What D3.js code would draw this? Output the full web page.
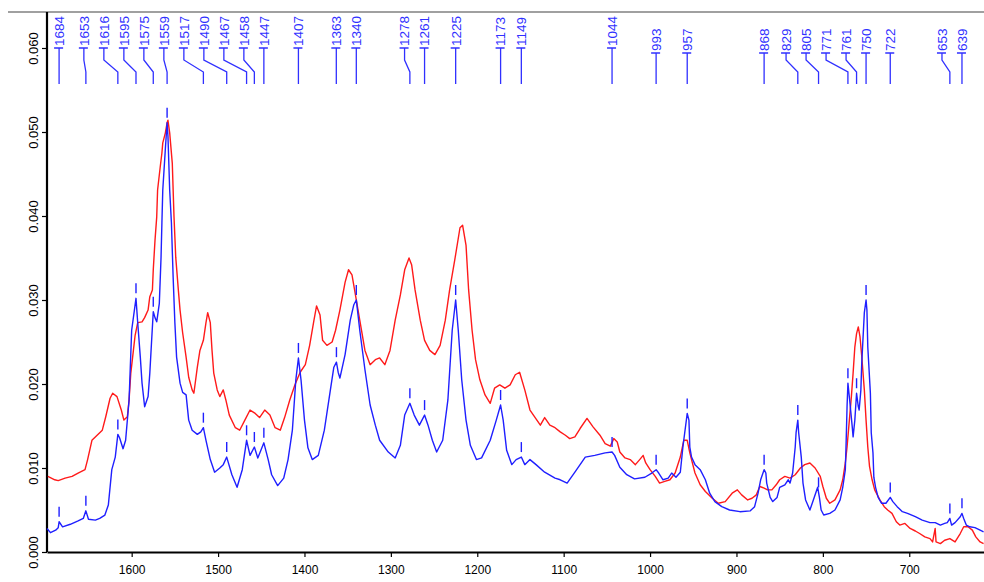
<!DOCTYPE html>
<html>
<head>
<meta charset="utf-8">
<script src="https://cdn.jsdelivr.net/npm/d3@7"></script>
<style>
  html, body { margin: 0; padding: 0; background: #fff; }
  svg { display: block; }
  text { font-family: Arial, "Liberation Sans", sans-serif; }
</style>
</head>
<body>
<svg id="spectrum"></svg>
<script>
/*------------------- data --------------------*/
// [wavenumber cm-1, absorbance]
const blueSpectrum = [
    [1698, 0.0028], [1694, 0.0023], [1688, 0.0026], [1685, 0.0029], [1684, 0.0036], [1680, 0.0030],
    [1671, 0.0033], [1662, 0.0037], [1656, 0.0040], [1653, 0.0049], [1650, 0.0039], [1642, 0.0038],
    [1637, 0.0040], [1631, 0.0044], [1627, 0.0056], [1623, 0.0098], [1619, 0.0113], [1616, 0.0140],
    [1614, 0.0136], [1610, 0.0123], [1607, 0.0133], [1603, 0.0181], [1600, 0.0264], [1595, 0.0302],
    [1593, 0.0273], [1590, 0.0232], [1588, 0.0201], [1585, 0.0173], [1581, 0.0185], [1579, 0.0213],
    [1577, 0.0250], [1575, 0.0286], [1573, 0.0279], [1571, 0.0274], [1568, 0.0296], [1566, 0.0351],
    [1565, 0.0392], [1564, 0.0431], [1561, 0.0480], [1559, 0.0511], [1558, 0.0495], [1556, 0.0431],
    [1554, 0.0392], [1552, 0.0327], [1550, 0.0273], [1548, 0.0232], [1544, 0.0201], [1541, 0.0190],
    [1537, 0.0187], [1534, 0.0157], [1530, 0.0145], [1524, 0.0140], [1520, 0.0143], [1517, 0.0148],
    [1514, 0.0133], [1509, 0.0110], [1504, 0.0095], [1498, 0.0100], [1494, 0.0104], [1490, 0.0113],
    [1484, 0.0092], [1478, 0.0077], [1472, 0.0098], [1467, 0.0133], [1463, 0.0115], [1458, 0.0125],
    [1454, 0.0112], [1447, 0.0130], [1442, 0.0110], [1438, 0.0092], [1431, 0.0079], [1424, 0.0088],
    [1419, 0.0110], [1414, 0.0145], [1410, 0.0205], [1407, 0.0231], [1404, 0.0205], [1400, 0.0157],
    [1396, 0.0124], [1391, 0.0110], [1384, 0.0115], [1377, 0.0145], [1370, 0.0193], [1366, 0.0220],
    [1363, 0.0226], [1361, 0.0214], [1359, 0.0207], [1353, 0.0235], [1347, 0.0276], [1343, 0.0294],
    [1340, 0.0300], [1336, 0.0264], [1330, 0.0217], [1324, 0.0175], [1318, 0.0151], [1313, 0.0133],
    [1303, 0.0119], [1295, 0.0112], [1289, 0.0127], [1284, 0.0163], [1278, 0.0177], [1273, 0.0163],
    [1267, 0.0151], [1261, 0.0163], [1257, 0.0151], [1252, 0.0133], [1247, 0.0119], [1240, 0.0133],
    [1234, 0.0181], [1229, 0.0264], [1225, 0.0300], [1222, 0.0264], [1218, 0.0205], [1213, 0.0157],
    [1208, 0.0127], [1201, 0.0110], [1195, 0.0112], [1185, 0.0133], [1178, 0.0157], [1173, 0.0175],
    [1170, 0.0157], [1166, 0.0121], [1160, 0.0104], [1155, 0.0110], [1149, 0.0113], [1145, 0.0104],
    [1139, 0.0110], [1132, 0.0104], [1122, 0.0095], [1110, 0.0088], [1104, 0.0086], [1096, 0.0082],
    [1087, 0.0095], [1075, 0.0113], [1064, 0.0115], [1052, 0.0118], [1044, 0.0119], [1041, 0.0115],
    [1035, 0.0101], [1027, 0.0092], [1018, 0.0087], [1006, 0.0089], [998, 0.0094], [993, 0.0098],
    [990, 0.0094], [985, 0.0086], [979, 0.0088], [975, 0.0094], [970, 0.0089], [965, 0.0095],
    [962, 0.0125], [957, 0.0165], [955, 0.0157], [954, 0.0125], [952, 0.0113], [948, 0.0104],
    [942, 0.0098], [936, 0.0086], [931, 0.0070], [925, 0.0060], [917, 0.0054], [908, 0.0050],
    [896, 0.0048], [884, 0.0049], [879, 0.0054], [875, 0.0070], [872, 0.0086], [868, 0.0098],
    [866, 0.0094], [865, 0.0082], [861, 0.0065], [858, 0.0060], [853, 0.0065], [850, 0.0077],
    [844, 0.0080], [840, 0.0086], [838, 0.0082], [835, 0.0094], [832, 0.0125], [831, 0.0142],
    [829, 0.0157], [828, 0.0142], [825, 0.0113], [823, 0.0082], [820, 0.0062], [815, 0.0050],
    [811, 0.0062], [806, 0.0077], [804, 0.0065], [802, 0.0050], [799, 0.0044], [792, 0.0046],
    [786, 0.0050], [780, 0.0062], [777, 0.0077], [774, 0.0098], [773, 0.0133], [772, 0.0173],
    [771, 0.0201], [769, 0.0181], [766, 0.0149], [765, 0.0137], [763, 0.0157], [761, 0.0189],
    [759, 0.0173], [758, 0.0169], [756, 0.0193], [755, 0.0225], [752, 0.0285], [750, 0.0300],
    [749, 0.0288], [748, 0.0244], [745, 0.0189], [744, 0.0142], [742, 0.0118], [741, 0.0089],
    [739, 0.0077], [736, 0.0065], [732, 0.0058], [727, 0.0058], [722, 0.0065], [719, 0.0060],
    [714, 0.0054], [708, 0.0048], [702, 0.0046], [693, 0.0042], [685, 0.0038], [676, 0.0035],
    [670, 0.0035], [664, 0.0032], [659, 0.0034], [656, 0.0035], [653, 0.0040], [651, 0.0032],
    [647, 0.0035], [641, 0.0042], [639, 0.0046], [637, 0.0040], [634, 0.0032], [630, 0.0030],
    [624, 0.0029], [618, 0.0026], [614, 0.0024]
];

const redSpectrum = [
    [1697, 0.0090], [1689, 0.0086], [1685, 0.0085], [1677, 0.0088], [1669, 0.0090], [1662, 0.0094],
    [1654, 0.0098], [1651, 0.0110], [1646, 0.0133], [1640, 0.0139], [1634, 0.0145], [1630, 0.0161],
    [1625, 0.0183], [1622, 0.0189], [1617, 0.0185], [1612, 0.0169], [1609, 0.0157], [1605, 0.0161],
    [1603, 0.0181], [1601, 0.0213], [1598, 0.0240], [1596, 0.0258], [1593, 0.0273], [1588, 0.0274],
    [1585, 0.0279], [1581, 0.0288], [1579, 0.0304], [1576, 0.0312], [1575, 0.0336], [1573, 0.0371],
    [1571, 0.0399], [1570, 0.0431], [1567, 0.0458], [1565, 0.0475], [1564, 0.0487], [1561, 0.0499],
    [1559, 0.0511], [1558, 0.0514], [1556, 0.0499], [1553, 0.0463], [1551, 0.0399], [1549, 0.0351],
    [1546, 0.0312], [1544, 0.0288], [1541, 0.0261], [1537, 0.0232], [1534, 0.0208], [1530, 0.0193],
    [1528, 0.0189], [1524, 0.0220], [1521, 0.0240], [1517, 0.0252], [1514, 0.0273], [1512, 0.0285],
    [1509, 0.0273], [1507, 0.0240], [1505, 0.0213], [1501, 0.0193], [1498, 0.0185], [1494, 0.0193],
    [1491, 0.0181], [1487, 0.0163], [1480, 0.0148], [1475, 0.0145], [1469, 0.0157], [1463, 0.0169],
    [1457, 0.0165], [1452, 0.0160], [1446, 0.0169], [1440, 0.0163], [1434, 0.0148], [1428, 0.0145],
    [1423, 0.0160], [1417, 0.0181], [1411, 0.0199], [1405, 0.0214], [1399, 0.0223], [1394, 0.0246],
    [1389, 0.0276], [1386, 0.0293], [1382, 0.0282], [1379, 0.0252], [1374, 0.0246], [1368, 0.0250],
    [1364, 0.0264], [1359, 0.0288], [1353, 0.0321], [1349, 0.0336], [1345, 0.0330], [1342, 0.0312],
    [1336, 0.0276], [1330, 0.0240], [1324, 0.0223], [1318, 0.0229], [1313, 0.0231], [1307, 0.0223],
    [1301, 0.0240], [1295, 0.0276], [1289, 0.0306], [1284, 0.0336], [1279, 0.0350], [1276, 0.0342],
    [1272, 0.0312], [1266, 0.0276], [1261, 0.0252], [1255, 0.0240], [1249, 0.0235], [1243, 0.0246],
    [1237, 0.0276], [1232, 0.0312], [1226, 0.0348], [1220, 0.0386], [1217, 0.0389], [1213, 0.0365],
    [1210, 0.0312], [1206, 0.0264], [1202, 0.0229], [1197, 0.0205], [1191, 0.0187], [1185, 0.0177],
    [1180, 0.0195], [1174, 0.0199], [1168, 0.0195], [1162, 0.0199], [1156, 0.0211], [1151, 0.0214],
    [1145, 0.0193], [1139, 0.0169], [1133, 0.0160], [1127, 0.0151], [1122, 0.0160], [1116, 0.0151],
    [1110, 0.0148], [1104, 0.0143], [1098, 0.0139], [1093, 0.0135], [1087, 0.0137], [1081, 0.0147],
    [1073, 0.0159], [1066, 0.0149], [1058, 0.0139], [1052, 0.0129], [1046, 0.0126], [1042, 0.0135],
    [1038, 0.0131], [1035, 0.0119], [1029, 0.0112], [1023, 0.0110], [1017, 0.0104], [1012, 0.0110],
    [1008, 0.0115], [1005, 0.0106], [1000, 0.0098], [994, 0.0090], [989, 0.0082], [983, 0.0084],
    [977, 0.0086], [971, 0.0094], [965, 0.0113], [961, 0.0133], [957, 0.0133], [954, 0.0118],
    [948, 0.0094], [942, 0.0080], [936, 0.0072], [928, 0.0064], [921, 0.0058], [913, 0.0060],
    [905, 0.0070], [899, 0.0074], [894, 0.0068], [887, 0.0062], [882, 0.0064], [877, 0.0068],
    [873, 0.0078], [868, 0.0076], [864, 0.0074], [859, 0.0074], [854, 0.0080], [850, 0.0086],
    [844, 0.0090], [838, 0.0088], [832, 0.0092], [826, 0.0100], [821, 0.0104], [815, 0.0106],
    [809, 0.0100], [803, 0.0090], [800, 0.0078], [796, 0.0064], [792, 0.0058], [786, 0.0062],
    [780, 0.0074], [777, 0.0086], [774, 0.0106], [772, 0.0125], [770, 0.0149], [767, 0.0185],
    [765, 0.0213], [763, 0.0244], [761, 0.0260], [759, 0.0268], [757, 0.0256], [755, 0.0233],
    [752, 0.0193], [750, 0.0157], [748, 0.0125], [746, 0.0102], [743, 0.0086], [740, 0.0074],
    [734, 0.0062], [729, 0.0054], [725, 0.0050], [720, 0.0046], [715, 0.0036], [711, 0.0032],
    [705, 0.0034], [699, 0.0028], [693, 0.0025], [688, 0.0022], [682, 0.0018], [676, 0.0016],
    [673, 0.0012], [670, 0.0028], [669, 0.0012], [664, 0.0010], [659, 0.0014], [653, 0.0016],
    [647, 0.0012], [641, 0.0022], [637, 0.0030], [632, 0.0030], [627, 0.0026], [623, 0.0018],
    [618, 0.0012], [614, 0.0010]
];

// peak picks shown on top
const peakLabels = [1684, 1653, 1616, 1595, 1575, 1559, 1517, 1490, 1467, 1458, 1447, 1407,
    1363, 1340, 1278, 1261, 1225, 1173, 1149, 1044, 993, 957, 868, 829, 805, 771, 761, 750,
    722, 653, 639];

const xTicks = [1600, 1500, 1400, 1300, 1200, 1100, 1000, 900, 800, 700];
const yTicks = [0, 0.01, 0.02, 0.03, 0.04, 0.05, 0.06];

/*------------------- layout --------------------*/
const width = 984, height = 582;
const plot = { left: 47, right: 984, top: 12, bottom: 552 };

const svg = d3.select('#spectrum')
    .attr('width', width)
    .attr('height', height);

const xScale = d3.scaleLinear().domain([1698, 613.5]).range([plot.left, plot.right]);
const yScale = d3.scaleLinear().domain([0, 0.06]).range([plot.bottom, 48]);

// top frame line
svg.append('line')
    .attr('x1', 8).attr('x2', width)
    .attr('y1', plot.top).attr('y2', plot.top)
    .attr('stroke', '#808080')
    .attr('stroke-width', 1.5);

/*------------------- axes --------------------*/
const xAxis = svg.append('g')
    .attr('transform', 'translate(0,' + plot.bottom + ')')
    .call(d3.axisBottom(xScale).tickValues(xTicks).tickSize(5).tickSizeOuter(0).tickFormat(d3.format('d')));
xAxis.select('.domain').attr('stroke-width', 2.2);
xAxis.selectAll('.tick line').attr('stroke-width', 1.2);
xAxis.selectAll('text').attr('font-size', 12).attr('dy', '1.2em').attr('fill', '#000');

const yAxis = svg.append('g')
    .attr('transform', 'translate(' + plot.left + ',0)')
    .call(d3.axisLeft(yScale).tickValues(yTicks).tickSize(5).tickSizeOuter(0).tickFormat(d3.format('.3f')));
yAxis.select('.domain')
    .attr('d', 'M0,' + plot.top + 'V' + plot.bottom)
    .attr('stroke-width', 2.2);
yAxis.selectAll('.tick line').attr('stroke-width', 1.2);
yAxis.selectAll('.tick text')
    .attr('font-size', 13)
    .attr('fill', '#000')
    .attr('text-anchor', 'middle')
    .attr('x', 0)
    .attr('transform', 'translate(-8,0) rotate(-90)')
    .attr('dy', '-0.1em');

/*------------------- spectra --------------------*/
const line = d3.line()
    .x(d => xScale(d[0]))
    .y(d => yScale(d[1]));

svg.append('path')
    .datum(redSpectrum)
    .attr('fill', 'none')
    .attr('stroke', '#ff1a1a')
    .attr('stroke-width', 1.4)
    .attr('stroke-linejoin', 'round')
    .attr('d', line);

svg.append('path')
    .datum(blueSpectrum)
    .attr('fill', 'none')
    .attr('stroke', '#1f1fff')
    .attr('stroke-width', 1.4)
    .attr('stroke-linejoin', 'round')
    .attr('d', line);

// value of the blue trace at a wavenumber
const bisect = d3.bisector(d => -d[0]).left;
function blueAt(wn) {
    const i = bisect(blueSpectrum, -wn);
    if (i <= 0) return blueSpectrum[0][1];
    if (i >= blueSpectrum.length) return blueSpectrum[blueSpectrum.length - 1][1];
    const a = blueSpectrum[i - 1], b = blueSpectrum[i];
    const t = (a[0] - wn) / (a[0] - b[0]);
    return a[1] + t * (b[1] - a[1]);
}

// small peak markers above blue trace
svg.selectAll('.marker')
    .data(peakLabels)
    .enter()
    .append('line')
    .attr('class', 'marker')
    .attr('x1', d => xScale(d)).attr('x2', d => xScale(d))
    .attr('y1', d => yScale(blueAt(d)) - 5)
    .attr('y2', d => yScale(blueAt(d)) - 15)
    .attr('stroke', '#1f1fff')
    .attr('stroke-width', 1.4);

/*------------------- peak labels --------------------*/
// push labels left so they keep 20px apart
const px = peakLabels.map(d => xScale(d));
const tx = px.slice();
for (let i = tx.length - 2; i >= 0; i--) {
    tx[i] = Math.min(px[i], tx[i + 1] - 20);
}

const labelColor = '#3030ff';
const labels = svg.selectAll('.peak')
    .data(peakLabels)
    .enter()
    .append('g')
    .attr('class', 'peak');

labels.append('text')
    .attr('transform', (d, i) => {
        const y0 = String(d).length === 4 ? 46 : 51;
        return 'translate(' + tx[i] + ',' + y0 + ') rotate(-90)';
    })
    .attr('dy', '0.36em')
    .attr('font-size', 13.5)
    .attr('fill', labelColor)
    .text(d => d);

labels.append('path')
    .attr('fill', 'none')
    .attr('stroke', labelColor)
    .attr('stroke-width', 1.3)
    .attr('d', (d, i) => {
        const y0 = String(d).length === 4 ? 48 : 53;
        let p = 'M' + (tx[i] - 5) + ',' + y0 + 'H' + (tx[i] + 4) + 'M' + tx[i] + ',' + y0;
        if (Math.abs(tx[i] - px[i]) < 1) {
            p += 'V84';
        } else {
            p += 'V60L' + px[i] + ',72V84';
        }
        return p;
    });
</script>
</body>
</html>
